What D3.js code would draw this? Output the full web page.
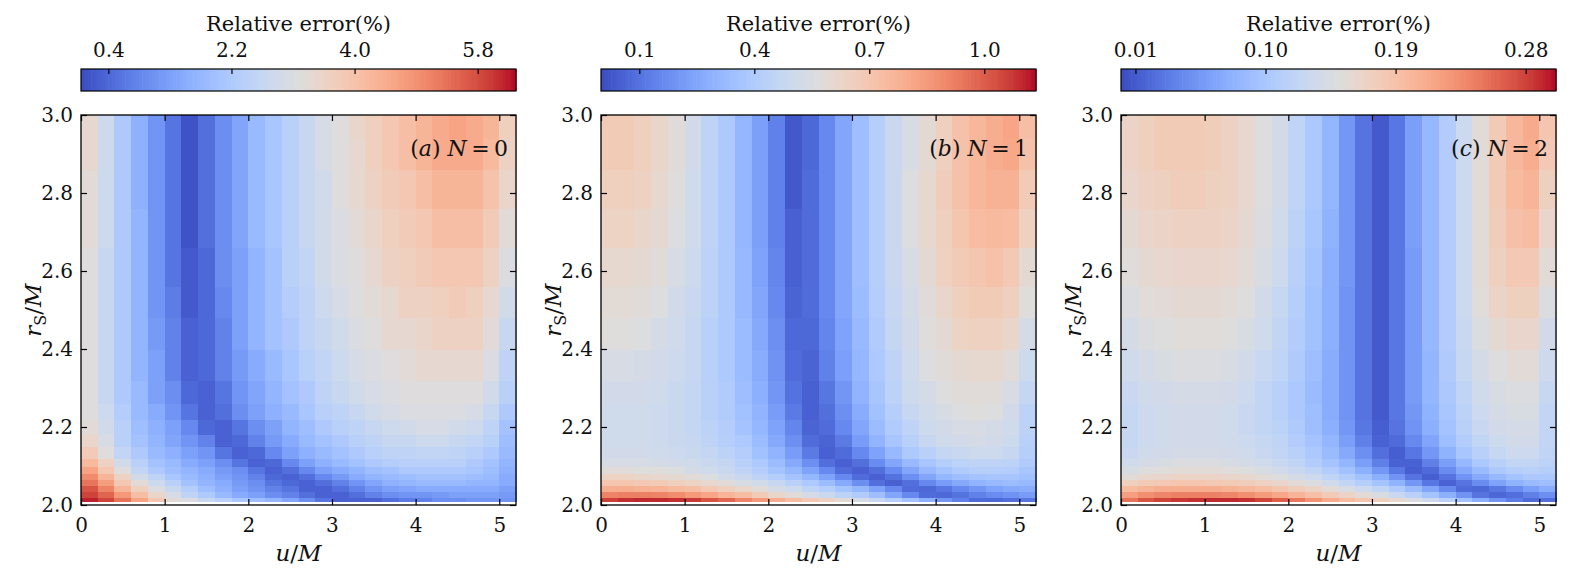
<!DOCTYPE html>
<html>
<head>
<meta charset="utf-8">
<script src="https://cdn.jsdelivr.net/npm/d3@7"></script>
<style>
  body { margin: 0; background: #fff; }
  svg text { font-family: "DejaVu Serif", serif; fill: #111; }
</style>
</head>
<body>
<div id="chart"></div>
<script>
// cell edges: u/M columns, r_S/M rows (rows are finer close to r = 2)
const uEdges = [0, 0.2, 0.4, 0.6, 0.8, 1.0, 1.2, 1.4, 1.6, 1.8, 2.0, 2.2, 2.4, 2.6, 2.8,
                3.0, 3.2, 3.4, 3.6, 3.8, 4.0, 4.2, 4.4, 4.6, 4.8, 5.0, 5.2];
const rEdges = [2.008, 2.02, 2.035, 2.05, 2.065, 2.08, 2.10, 2.12, 2.15, 2.18, 2.22,
                2.26, 2.32, 2.40, 2.48, 2.56, 2.66, 2.76, 2.86, 2.94, 3.0];
const uTicks = [0, 1, 2, 3, 4, 5];
const rTicks = [2.0, 2.2, 2.4, 2.6, 2.8, 3.0];

// relative error (%), one row per r_S/M band, bottom row first
const errN0 = [
  [6.2,5.9,5.3,4.6,3.9,3.3,3.1,2.7,2.4,2.1,1.9,1.7,1.4,1.0,0.6,0.3,0.3,0.3,0.5,0.7,0.8,1.0,1.0,1.1,1.1,1.1],
  [5.9,5.5,4.8,4.1,3.5,3.0,2.5,2.2,1.8,1.5,1.3,1.0,0.8,0.5,0.3,0.3,0.5,0.8,1.0,1.1,1.1,1.2,1.3,1.3,1.3,1.2],
  [5.7,5.1,4.3,3.7,3.1,2.7,2.3,1.9,1.6,1.3,1.1,0.8,0.6,0.3,0.3,0.5,0.8,1.1,1.3,1.4,1.5,1.5,1.5,1.5,1.5,1.3],
  [5.3,4.7,3.9,3.3,2.8,2.4,2.0,1.7,1.5,1.2,1.0,0.6,0.4,0.3,0.5,0.8,1.1,1.4,1.6,1.7,1.8,1.8,1.8,1.7,1.7,1.5],
  [5.0,4.3,3.6,2.9,2.5,2.1,1.8,1.6,1.3,1.1,0.8,0.4,0.3,0.5,0.9,1.2,1.5,1.7,1.8,1.9,2.0,2.0,2.0,1.9,1.8,1.5],
  [4.6,3.9,3.2,2.6,2.2,1.9,1.7,1.5,1.2,1.0,0.6,0.3,0.5,0.9,1.3,1.5,1.7,1.9,2.0,2.2,2.2,2.2,2.2,2.1,1.9,1.6],
  [4.2,3.6,2.9,2.4,2.0,1.8,1.5,1.3,1.0,0.6,0.3,0.4,0.9,1.3,1.6,1.8,2.0,2.2,2.3,2.4,2.4,2.4,2.4,2.2,2.0,1.7],
  [3.8,3.2,2.6,2.2,1.8,1.6,1.3,1.1,0.6,0.3,0.4,0.9,1.3,1.6,1.8,2.0,2.2,2.4,2.5,2.5,2.6,2.6,2.5,2.4,2.2,1.8],
  [3.5,3.0,2.4,2.0,1.7,1.4,1.1,0.8,0.3,0.4,0.8,1.2,1.5,1.8,2.0,2.2,2.4,2.5,2.7,2.7,2.8,2.8,2.7,2.6,2.4,1.9],
  [3.3,2.9,2.4,1.9,1.6,1.3,0.9,0.4,0.3,0.6,1.0,1.3,1.7,1.9,2.2,2.4,2.5,2.7,2.8,2.9,3.0,3.0,2.9,2.8,2.5,2.0],
  [3.2,2.8,2.3,1.8,1.5,1.1,0.6,0.3,0.5,1.0,1.3,1.6,1.8,2.1,2.4,2.5,2.7,2.9,3.0,3.1,3.1,3.1,3.1,3.0,2.7,2.2],
  [3.2,2.7,2.2,1.8,1.3,1.0,0.4,0.3,0.6,1.1,1.4,1.7,2.0,2.2,2.5,2.7,2.9,3.0,3.1,3.2,3.2,3.2,3.2,3.2,2.9,2.4],
  [3.2,2.7,2.2,1.7,1.3,0.8,0.3,0.4,0.8,1.2,1.5,1.8,2.1,2.4,2.6,2.8,3.0,3.1,3.2,3.3,3.4,3.4,3.4,3.4,3.1,2.5],
  [3.2,2.7,2.2,1.7,1.2,0.8,0.3,0.4,0.8,1.3,1.7,2.0,2.2,2.5,2.7,2.9,3.1,3.2,3.4,3.4,3.5,3.6,3.6,3.6,3.3,2.7],
  [3.2,2.7,2.2,1.7,1.1,0.7,0.2,0.4,0.9,1.3,1.7,2.0,2.3,2.5,2.8,3.0,3.2,3.3,3.4,3.6,3.6,3.7,3.8,3.7,3.4,2.9],
  [3.2,2.7,2.2,1.7,1.1,0.6,0.2,0.4,1.0,1.3,1.7,2.0,2.4,2.6,2.9,3.1,3.2,3.4,3.6,3.7,3.8,3.9,3.9,3.9,3.6,3.1],
  [3.3,2.8,2.2,1.7,1.1,0.6,0.1,0.5,1.0,1.4,1.8,2.1,2.4,2.7,2.9,3.1,3.3,3.5,3.7,3.8,3.9,4.1,4.1,4.1,3.8,3.3],
  [3.3,2.8,2.2,1.6,1.1,0.6,0.1,0.5,1.0,1.4,1.8,2.1,2.4,2.7,2.9,3.2,3.4,3.6,3.8,3.9,4.1,4.3,4.3,4.3,4.0,3.5],
  [3.4,2.8,2.2,1.6,1.1,0.6,0.1,0.5,1.0,1.4,1.8,2.1,2.4,2.7,3.0,3.2,3.4,3.7,3.9,4.1,4.3,4.5,4.5,4.5,4.2,3.6],
  [3.4,2.8,2.2,1.6,1.1,0.6,0.1,0.5,1.0,1.4,1.8,2.1,2.4,2.7,3.0,3.2,3.5,3.7,3.9,4.1,4.3,4.5,4.6,4.5,4.3,3.7]
];

const errN1 = [
  [1.06,1.09,1.10,1.10,1.09,1.07,1.02,0.98,0.91,0.85,0.79,0.74,0.69,0.65,0.59,0.53,0.48,0.42,0.35,0.28,0.20,0.14,0.08,0.07,0.09,0.11],
  [0.91,0.92,0.92,0.91,0.89,0.85,0.82,0.77,0.73,0.68,0.62,0.58,0.53,0.49,0.44,0.40,0.34,0.25,0.16,0.08,0.07,0.10,0.14,0.17,0.19,0.22],
  [0.79,0.79,0.78,0.77,0.75,0.73,0.69,0.66,0.62,0.58,0.53,0.50,0.45,0.41,0.36,0.31,0.24,0.16,0.08,0.07,0.11,0.16,0.20,0.24,0.26,0.27],
  [0.70,0.70,0.69,0.68,0.66,0.64,0.61,0.58,0.54,0.51,0.48,0.43,0.39,0.33,0.26,0.18,0.09,0.05,0.09,0.16,0.22,0.26,0.30,0.32,0.33,0.32],
  [0.64,0.64,0.62,0.61,0.60,0.58,0.56,0.52,0.49,0.45,0.41,0.36,0.31,0.24,0.16,0.08,0.05,0.10,0.18,0.25,0.31,0.34,0.36,0.37,0.37,0.35],
  [0.58,0.58,0.57,0.57,0.56,0.53,0.51,0.49,0.45,0.41,0.36,0.31,0.24,0.16,0.08,0.05,0.09,0.17,0.25,0.32,0.36,0.40,0.42,0.42,0.41,0.37],
  [0.54,0.54,0.54,0.53,0.52,0.51,0.49,0.47,0.43,0.39,0.33,0.26,0.18,0.09,0.05,0.09,0.17,0.25,0.32,0.37,0.42,0.44,0.45,0.45,0.44,0.40],
  [0.52,0.52,0.52,0.51,0.50,0.49,0.47,0.44,0.41,0.35,0.30,0.22,0.12,0.05,0.08,0.16,0.24,0.32,0.39,0.43,0.47,0.49,0.50,0.50,0.48,0.42],
  [0.51,0.51,0.51,0.50,0.49,0.48,0.45,0.42,0.39,0.33,0.26,0.18,0.08,0.06,0.12,0.22,0.30,0.37,0.43,0.48,0.51,0.52,0.53,0.52,0.50,0.43],
  [0.51,0.51,0.51,0.50,0.49,0.47,0.44,0.41,0.36,0.31,0.24,0.15,0.06,0.08,0.16,0.25,0.33,0.40,0.45,0.50,0.52,0.54,0.54,0.53,0.51,0.44],
  [0.51,0.51,0.51,0.50,0.49,0.47,0.43,0.40,0.35,0.30,0.22,0.12,0.05,0.09,0.18,0.27,0.35,0.42,0.48,0.51,0.54,0.56,0.57,0.56,0.52,0.44],
  [0.52,0.52,0.52,0.51,0.49,0.47,0.43,0.40,0.34,0.28,0.20,0.10,0.05,0.11,0.20,0.30,0.37,0.44,0.50,0.53,0.56,0.58,0.58,0.58,0.54,0.47],
  [0.54,0.54,0.53,0.52,0.50,0.48,0.43,0.39,0.33,0.27,0.19,0.08,0.06,0.14,0.23,0.31,0.39,0.45,0.51,0.56,0.58,0.60,0.61,0.61,0.58,0.50],
  [0.57,0.57,0.56,0.53,0.51,0.48,0.43,0.39,0.33,0.26,0.18,0.07,0.07,0.15,0.24,0.32,0.40,0.47,0.52,0.57,0.60,0.64,0.65,0.65,0.62,0.53],
  [0.59,0.59,0.58,0.56,0.52,0.49,0.44,0.39,0.32,0.25,0.16,0.06,0.08,0.16,0.25,0.33,0.41,0.48,0.53,0.58,0.62,0.66,0.68,0.68,0.66,0.57],
  [0.61,0.61,0.60,0.58,0.54,0.50,0.44,0.39,0.32,0.24,0.15,0.05,0.08,0.16,0.25,0.34,0.42,0.49,0.54,0.60,0.65,0.68,0.70,0.72,0.69,0.60],
  [0.64,0.64,0.62,0.60,0.56,0.51,0.45,0.39,0.31,0.23,0.14,0.05,0.08,0.16,0.25,0.34,0.42,0.49,0.56,0.61,0.66,0.70,0.74,0.75,0.74,0.65],
  [0.66,0.66,0.65,0.61,0.57,0.51,0.45,0.39,0.31,0.23,0.14,0.03,0.08,0.16,0.25,0.34,0.42,0.49,0.56,0.61,0.67,0.72,0.76,0.78,0.78,0.68],
  [0.68,0.68,0.66,0.62,0.58,0.52,0.45,0.39,0.31,0.23,0.14,0.03,0.07,0.16,0.25,0.34,0.42,0.49,0.54,0.60,0.66,0.72,0.76,0.79,0.81,0.72],
  [0.68,0.68,0.66,0.62,0.58,0.52,0.45,0.39,0.31,0.23,0.14,0.03,0.07,0.16,0.25,0.34,0.42,0.49,0.54,0.60,0.66,0.72,0.76,0.79,0.82,0.73]
];

const errN2 = [
  [0.252,0.270,0.279,0.285,0.288,0.291,0.291,0.288,0.279,0.264,0.249,0.231,0.213,0.198,0.186,0.174,0.162,0.147,0.132,0.114,0.093,0.072,0.051,0.033,0.021,0.024],
  [0.222,0.234,0.240,0.243,0.243,0.243,0.240,0.234,0.225,0.216,0.204,0.192,0.180,0.168,0.156,0.144,0.129,0.114,0.096,0.075,0.051,0.027,0.018,0.024,0.036,0.048],
  [0.198,0.204,0.210,0.210,0.210,0.210,0.207,0.201,0.195,0.186,0.177,0.168,0.156,0.144,0.132,0.120,0.105,0.087,0.066,0.042,0.021,0.018,0.030,0.045,0.060,0.072],
  [0.174,0.180,0.183,0.186,0.186,0.183,0.180,0.177,0.171,0.165,0.156,0.147,0.135,0.123,0.111,0.096,0.078,0.054,0.030,0.015,0.027,0.045,0.063,0.078,0.087,0.090],
  [0.156,0.162,0.165,0.168,0.168,0.168,0.165,0.162,0.156,0.150,0.141,0.132,0.120,0.108,0.093,0.075,0.051,0.027,0.012,0.027,0.051,0.069,0.084,0.096,0.102,0.102],
  [0.144,0.150,0.153,0.156,0.156,0.156,0.153,0.150,0.144,0.138,0.129,0.120,0.108,0.093,0.075,0.054,0.030,0.012,0.021,0.045,0.069,0.087,0.102,0.111,0.114,0.111],
  [0.135,0.141,0.144,0.147,0.147,0.147,0.144,0.141,0.135,0.129,0.120,0.108,0.096,0.081,0.060,0.036,0.015,0.015,0.036,0.060,0.084,0.102,0.114,0.123,0.123,0.117],
  [0.129,0.135,0.138,0.141,0.141,0.141,0.138,0.135,0.129,0.123,0.114,0.102,0.087,0.069,0.048,0.024,0.012,0.030,0.054,0.078,0.099,0.114,0.126,0.132,0.132,0.120],
  [0.126,0.132,0.135,0.138,0.138,0.138,0.135,0.132,0.126,0.120,0.108,0.096,0.081,0.060,0.036,0.015,0.021,0.042,0.066,0.090,0.108,0.123,0.132,0.138,0.138,0.123],
  [0.126,0.132,0.135,0.138,0.138,0.138,0.135,0.129,0.123,0.117,0.105,0.090,0.075,0.054,0.030,0.012,0.027,0.051,0.075,0.096,0.114,0.129,0.138,0.141,0.141,0.123],
  [0.126,0.132,0.135,0.138,0.138,0.138,0.135,0.129,0.123,0.114,0.102,0.090,0.072,0.051,0.027,0.009,0.030,0.054,0.078,0.099,0.117,0.132,0.141,0.144,0.144,0.123],
  [0.129,0.135,0.138,0.141,0.141,0.141,0.138,0.132,0.123,0.114,0.102,0.087,0.072,0.051,0.027,0.009,0.030,0.057,0.081,0.102,0.120,0.135,0.144,0.147,0.147,0.126],
  [0.135,0.141,0.144,0.147,0.147,0.147,0.144,0.138,0.129,0.120,0.105,0.090,0.072,0.051,0.027,0.009,0.030,0.057,0.081,0.105,0.126,0.141,0.150,0.156,0.156,0.132],
  [0.141,0.147,0.150,0.153,0.153,0.153,0.150,0.144,0.135,0.123,0.108,0.093,0.075,0.051,0.027,0.009,0.030,0.057,0.084,0.108,0.129,0.147,0.159,0.165,0.165,0.138],
  [0.147,0.153,0.156,0.159,0.159,0.159,0.156,0.150,0.138,0.126,0.111,0.093,0.075,0.051,0.027,0.009,0.030,0.057,0.084,0.108,0.132,0.153,0.168,0.174,0.174,0.147],
  [0.153,0.159,0.162,0.165,0.165,0.165,0.162,0.156,0.144,0.132,0.114,0.096,0.075,0.054,0.027,0.009,0.030,0.057,0.084,0.108,0.132,0.156,0.174,0.183,0.183,0.156],
  [0.159,0.165,0.168,0.171,0.171,0.171,0.168,0.159,0.147,0.135,0.117,0.099,0.078,0.054,0.027,0.009,0.030,0.060,0.084,0.108,0.132,0.156,0.177,0.192,0.195,0.165],
  [0.165,0.171,0.174,0.177,0.177,0.174,0.171,0.162,0.150,0.138,0.120,0.102,0.081,0.054,0.027,0.009,0.030,0.060,0.084,0.108,0.132,0.156,0.180,0.198,0.204,0.174],
  [0.168,0.174,0.180,0.180,0.180,0.177,0.171,0.162,0.150,0.138,0.120,0.102,0.081,0.054,0.027,0.009,0.030,0.060,0.084,0.108,0.132,0.156,0.180,0.201,0.210,0.183],
  [0.168,0.174,0.180,0.180,0.180,0.177,0.171,0.162,0.150,0.138,0.120,0.102,0.081,0.054,0.027,0.009,0.030,0.060,0.084,0.108,0.132,0.156,0.180,0.201,0.213,0.186]
];

// colour bar limits and ticks per panel
const cbarMax = [6.36, 1.135, 0.301];
const cbarTicks = [[0.4, 2.2, 4.0, 5.8], [0.1, 0.4, 0.7, 1.0], [0.01, 0.10, 0.19, 0.28]];
const cbarFormats = [".1f", ".1f", ".2f"];
const panelTags = ["a", "b", "c"];
const panelN = ["0", "1", "2"];

// coolwarm lookup (Moreland), 33 stops
const coolwarmStops = ["#3b4cc0","#445acc","#4d68d7","#5775e1","#6282ea","#6c8ef1","#779af7","#82a5fb",
  "#8db0fe","#98b9ff","#a3c2ff","#aec9fd","#b8d0f9","#c2d5f4","#ccd9ee","#d5dbe6","#dddddd",
  "#e5d8d1","#ecd3c5","#f1ccb9","#f5c4ad","#f7bba0","#f7b194","#f7a687","#f49a7b","#f18d6f",
  "#ec7f63","#e57058","#de604d","#d55042","#cb3e38","#c0282f","#b40426"];
const coolwarm = d3.piecewise(d3.interpolateRgb, coolwarmStops);

const tickFont = 20;

class ErrorPanel {
    constructor(svg, left, values, vmax, ticks, fmt, tag, n) {
        this.svg = svg;
        this.left = left;
        this.w = 435;
        this.top = 115;
        this.bottom = 505;
        this.g = svg.append("g").attr("transform", "translate(" + left + ",0)");
        this.xScale = d3.scaleLinear().domain([0, 5.2]).range([0, this.w]);
        this.yScale = d3.scaleLinear().domain([2.0, 3.0]).range([this.bottom, this.top]);
        this.color = d3.scaleSequential(coolwarm).domain([0, vmax]);

        this.setup_colorbar(vmax, ticks, fmt);
        this.draw_cells(values);
        this.setup_axes();
        this.setup_labels(tag, n);
    }

    setup_colorbar(vmax, ticks, fmt) {
        let w = this.w;
        let color = this.color;
        let cTop = 69, cH = 22;
        let cScale = d3.scaleLinear().domain([0, vmax]).range([0, w]);
        let steps = d3.range(128);
        let cb = this.g.append("g");

        cb.selectAll("rect")
            .data(steps)
            .enter()
            .append("rect")
            .attr("x", function(d) { return d * w / 128; })
            .attr("y", cTop)
            .attr("width", w / 128 + 0.6)
            .attr("height", cH)
            .attr("fill", function(d) { return color((d + 0.5) / 128 * vmax); });

        cb.append("rect")
            .attr("x", 0).attr("y", cTop)
            .attr("width", w).attr("height", cH)
            .attr("fill", "none").attr("stroke", "#000").attr("stroke-width", 1.2);

        let ax = cb.append("g")
            .attr("transform", "translate(0," + cTop + ")")
            .call(d3.axisTop(cScale).tickValues(ticks).tickFormat(d3.format(fmt))
                .tickSizeInner(-5).tickSizeOuter(0).tickPadding(12));
        ax.select(".domain").remove();
        ax.selectAll("line").attr("stroke", "#000").attr("stroke-width", 1.2);
        ax.selectAll("text").attr("font-family", "DejaVu Serif").attr("font-size", tickFont).attr("fill", "#111");

        cb.append("text")
            .attr("x", w / 2)
            .attr("y", 31)
            .attr("text-anchor", "middle")
            .attr("font-size", 21)
            .text("Relative error(%)");
    }

    draw_cells(values) {
        let xScale = this.xScale;
        let yScale = this.yScale;
        let color = this.color;
        let cells = [];
        for (let j = 0; j < values.length; j++) {
            for (let i = 0; i < values[j].length; i++) {
                cells.push({ u0: uEdges[i], u1: uEdges[i + 1], r0: rEdges[j], r1: rEdges[j + 1], v: values[j][i] });
            }
        }
        this.g.append("g")
            .attr("shape-rendering", "crispEdges")
            .selectAll("rect")
            .data(cells)
            .enter()
            .append("rect")
            .attr("x", function(d) { return xScale(d.u0); })
            .attr("y", function(d) { return yScale(d.r1); })
            .attr("width", function(d) { return xScale(d.u1) - xScale(d.u0) + 0.5; })
            .attr("height", function(d) { return yScale(d.r0) - yScale(d.r1) + 0.5; })
            .attr("fill", function(d) { return color(d.v); });
    }

    setup_axes() {
        let g = this.g;
        let xScale = this.xScale;
        let yScale = this.yScale;

        let xb = g.append("g").attr("transform", "translate(0," + this.bottom + ")")
            .call(d3.axisBottom(xScale).tickValues(uTicks).tickFormat(d3.format("d"))
                .tickSizeInner(-6).tickSizeOuter(0).tickPadding(13));
        let xt = g.append("g").attr("transform", "translate(0," + this.top + ")")
            .call(d3.axisTop(xScale).tickValues(uTicks).tickFormat("")
                .tickSizeInner(-6).tickSizeOuter(0));
        let yl = g.append("g")
            .call(d3.axisLeft(yScale).tickValues(rTicks).tickFormat(d3.format(".1f"))
                .tickSizeInner(-6).tickSizeOuter(0).tickPadding(8));
        let yr = g.append("g").attr("transform", "translate(" + this.w + ",0)")
            .call(d3.axisRight(yScale).tickValues(rTicks).tickFormat("")
                .tickSizeInner(-6).tickSizeOuter(0));

        [xb, xt, yl, yr].forEach(function(a) {
            a.select(".domain").remove();
            a.selectAll("line").attr("stroke", "#000").attr("stroke-width", 1.2);
            a.selectAll("text").attr("font-family", "DejaVu Serif").attr("font-size", tickFont).attr("fill", "#111");
        });

        g.append("rect")
            .attr("x", 0).attr("y", this.top)
            .attr("width", this.w).attr("height", this.bottom - this.top)
            .attr("fill", "none").attr("stroke", "#000").attr("stroke-width", 1.3);
    }

    setup_labels(tag, n) {
        let g = this.g;
        let w = this.w;

        let xl = g.append("text")
            .attr("x", w / 2).attr("y", 561)
            .attr("text-anchor", "middle")
            .attr("font-size", 23);
        xl.append("tspan").attr("font-style", "italic").text("u");
        xl.append("tspan").text("/");
        xl.append("tspan").attr("font-style", "italic").text("M");

        let yl = g.append("text")
            .attr("transform", "translate(-40,310) rotate(-90)")
            .attr("text-anchor", "middle")
            .attr("font-size", 23);
        yl.append("tspan").attr("font-style", "italic").text("r");
        yl.append("tspan").attr("font-size", 16).attr("dy", 5).text("S");
        yl.append("tspan").attr("dy", -5).text("/");
        yl.append("tspan").attr("font-style", "italic").text("M");

        let pl = g.append("text")
            .attr("x", w - 8).attr("y", 156)
            .attr("text-anchor", "end")
            .attr("font-size", 22);
        pl.append("tspan").text("(");
        pl.append("tspan").attr("font-style", "italic").text(tag);
        pl.append("tspan").text(") ");
        pl.append("tspan").attr("font-style", "italic").text("N");
        pl.append("tspan").text("\u2009=\u2009" + n);
    }
}

let svg = d3.select("#chart").append("svg")
    .attr("width", 1577)
    .attr("height", 582);

const panelLeft = [81, 601, 1121];
const panelData = [errN0, errN1, errN2];
for (let k = 0; k < 3; k++) {
    new ErrorPanel(svg, panelLeft[k], panelData[k], cbarMax[k], cbarTicks[k], cbarFormats[k], panelTags[k], panelN[k]);
}
</script>
</body>
</html>
